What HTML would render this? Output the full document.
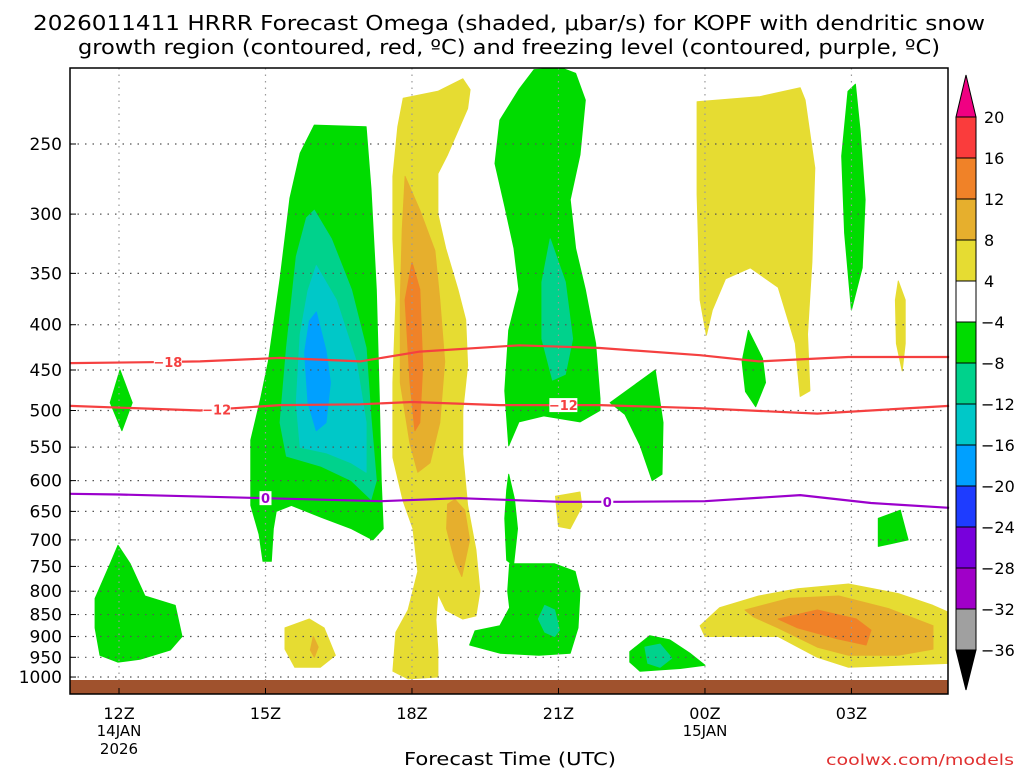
<!DOCTYPE html>
<html><head><meta charset="utf-8"><title>HRRR Omega KOPF</title>
<style>html,body{margin:0;padding:0;background:#fff;width:1024px;height:768px;overflow:hidden}svg{display:block}text{font-family:"DejaVu Sans","Liberation Sans",sans-serif}</style>
</head><body>
<svg id="chart" width="1024" height="768" viewBox="0 0 1024 768" xmlns="http://www.w3.org/2000/svg">
<g>
<text x="33" y="30" font-size="20" textLength="952" lengthAdjust="spacingAndGlyphs" fill="#000">2026011411 HRRR Forecast Omega (shaded, μbar/s) for KOPF with dendritic snow</text>
<text x="78" y="54" font-size="20" textLength="862" lengthAdjust="spacingAndGlyphs" fill="#000">growth region (contoured, red, ºC) and freezing level (contoured, purple, ºC)</text>
</g>
<g id="shading"></g>
<g id="grid"></g>
<g id="lines"></g>
<rect x="70" y="680" width="878" height="14" fill="#a0522d"/>
<rect x="70" y="68" width="878" height="626" fill="none" stroke="#000" stroke-width="1.5"/>
<g id="yaxis"></g>
<g id="xaxis"></g>
<text x="510" y="765" font-size="18" text-anchor="middle" textLength="212" lengthAdjust="spacingAndGlyphs">Forecast Time (UTC)</text>
<text x="1014" y="765" font-size="15" text-anchor="end" fill="#e03030" textLength="188" lengthAdjust="spacingAndGlyphs">coolwx.com/models</text>
<g id="cbar"></g>
</svg>
<script>
const NS="http://www.w3.org/2000/svg";
// axes
const pressureTicks=[250,300,350,400,450,500,550,600,650,700,750,800,850,900,950,1000];
const hourTicks=[12,15,18,21,24,27];
const hourLabels=["12Z","15Z","18Z","21Z","00Z","03Z"];
const dateLabels=[["14JAN","2026"],[],[],[],["15JAN"],[]];
// colorbar
const cbarLevels=["20","16","12","8","4","-4","-8","-12","-16","-20","-24","-28","-32","-36"];
const cbarColors=["#fa3c3c","#f08228","#e6af2d","#e6dc32","#ffffff","#00dc00","#00d28c","#00c8c8","#00a0ff","#1e3cff","#7800dc","#a000c8","#a0a0a0"];
// contour lines (hour since 00Z 14 Jan, hPa)
const m18Hours=[11,12.63,13.66,15.3,16.94,18.16,20.2,21.85,23.9,25.1,26.94,29];
const m18Press=[442,441,440,436,440,429,422,425,433,440,435,435];
const m12Hours=[11,13.66,15.3,16.94,18,19.8,21.85,23.9,26.3,29];
const m12Press=[494,500,493,492,489,493,493,497,504,494];
const frzHours=[11,12,15,17.35,18.98,21.04,22.26,24,25.95,27.4,29];
const frzPress=[621,622,628,633,628,634,634,633,623,636,644];
// shaded omega regions
const Y="#e6dc32",T="#e6af2d",O="#f08228",G="#00dc00",C1="#00d28c",C2="#00c8c8",B="#00a0ff";
const regionColors=[Y,T,O,T,Y,T,O,Y,T,Y,Y,Y,G,C1,C2,B,G,C1,G,G,C1,G,G,G,G,G,G,C1,G];
const regionNames=["yellow-18z","tan-18z","orange-18z","tan-18z-low","yellow-03z-low","tan-03z-low","orange-03z-low","yellow-top-right","tan-16z-low","yellow-16z-low","yellow-22z","yellow-28z","green-16z","teal-16z","cyan-16z","blue-16z","green-21z","teal-21z","green-12z-small","green-12z-low","teal-21z-low","green-21z-low","green-20z-stem","green-23z","green-27z","green-25z","green-28z","teal-23z-low","green-23z-low"];
const regions=[
[[17.82,222],[18.53,218],[19.04,211],[19.19,217],[19.14,228],[18.73,257],[18.53,270],[18.53,300],[18.69,328],[18.94,365],[19.1,395],[19.14,445],[19.04,500],[19.04,560],[19.14,640],[19.31,718],[19.39,800],[19.31,853],[19.04,860],[18.69,840],[18.53,805],[18.49,862],[18.53,935],[18.53,1000],[17.92,1005],[17.61,985],[17.67,890],[17.92,840],[18.12,760],[18.02,680],[17.82,633],[17.61,565],[17.61,465],[17.67,375],[17.61,320],[17.61,272],[17.71,239]],
[[17.86,272],[18.16,297],[18.47,330],[18.57,375],[18.67,440],[18.57,516],[18.37,573],[18.12,587],[17.96,545],[17.76,465],[17.76,375],[17.8,313]],
[[18.0,340],[18.16,365],[18.22,445],[18.16,516],[18.06,527],[17.96,465],[17.86,375]],
[[18.88,630],[19.08,648],[19.18,700],[19.02,770],[18.88,740],[18.71,680],[18.73,638]],
[[23.9,875],[24.3,835],[25.1,810],[25.9,795],[26.94,785],[27.96,805],[28.67,830],[28.99,845],[28.99,965],[27.96,970],[26.94,975],[26.3,950],[25.5,900],[24.7,900],[24.0,900]],
[[24.82,840],[25.73,815],[26.74,810],[27.76,837],[28.67,875],[28.67,930],[27.96,945],[26.94,945],[26.3,925],[25.5,880],[24.99,855]],
[[25.5,860],[26.3,840],[27.1,860],[27.4,885],[27.3,920],[26.7,905],[25.9,880]],
[[23.84,224],[25.13,221],[25.95,216],[26.05,223],[26.25,266],[26.19,340],[26.1,410],[26.15,475],[25.95,482],[25.85,420],[25.5,363],[24.93,345],[24.42,355],[24.15,385],[24.03,411],[23.9,375],[23.84,285]],
[[15.98,900],[16.08,925],[16.0,950],[15.92,932]],
[[15.4,880],[15.9,860],[16.2,880],[16.43,945],[16.12,975],[15.6,975],[15.4,930]],
[[20.94,625],[21.44,618],[21.48,642],[21.24,680],[21.0,676]],
[[27.96,357],[28.1,375],[28.1,420],[28.04,451],[27.92,420],[27.9,375]],
[[16.0,238],[17.06,239],[17.16,281],[17.27,365],[17.33,484],[17.37,600],[17.41,680],[17.2,700],[16.76,680],[16.14,660],[15.53,640],[15.22,650],[15.16,680],[15.12,740],[14.95,740],[14.87,690],[14.7,640],[14.7,540],[14.9,485],[15.06,440],[15.3,355],[15.5,288],[15.71,256]],
[[16.0,297],[16.35,320],[16.76,365],[17.06,425],[17.16,510],[17.27,600],[17.16,630],[16.76,600],[16.14,578],[15.43,563],[15.3,516],[15.43,425],[15.63,335],[15.84,303]],
[[16.04,343],[16.45,375],[16.86,440],[17.06,516],[17.06,587],[16.76,573],[16.24,558],[15.71,550],[15.63,490],[15.71,410],[15.87,366]],
[[16.04,387],[16.24,428],[16.33,465],[16.24,516],[16.04,527],[15.87,490],[15.8,430],[15.9,396]],
[[20.5,206],[21.05,205],[21.35,208],[21.55,223],[21.44,257],[21.24,289],[21.35,328],[21.55,365],[21.76,420],[21.85,485],[21.85,500],[21.44,515],[20.7,507],[20.19,515],[19.98,548],[19.9,475],[19.98,406],[20.19,365],[20.09,328],[19.9,294],[19.7,263],[19.8,235],[20.19,217]],
[[20.83,320],[21.14,358],[21.29,415],[21.14,455],[20.88,462],[20.66,415],[20.66,358]],
[[12.02,450],[12.27,490],[12.06,527],[11.82,490]],
[[11.51,815],[11.82,745],[11.98,710],[12.23,745],[12.53,810],[13.15,830],[13.29,900],[13.05,932],[12.43,955],[11.98,962],[11.61,945],[11.51,880]],
[[20.72,830],[20.92,840],[21.02,885],[20.92,900],[20.72,890],[20.59,860]],
[[20.0,745],[20.92,745],[21.34,760],[21.44,800],[21.4,880],[21.24,940],[20.6,945],[19.8,940],[19.18,920],[19.29,887],[19.8,875],[20.0,835],[19.96,800]],
[[19.98,590],[20.1,630],[20.16,680],[20.08,748],[19.94,738],[19.9,662],[19.94,615]],
[[22.06,490],[22.98,450],[23.14,516],[23.12,590],[22.92,600],[22.67,547],[22.36,505]],
[[26.93,218],[27.08,214],[27.18,242],[27.28,289],[27.22,345],[27.0,385],[26.86,315],[26.8,258]],
[[24.89,406],[25.18,437],[25.24,465],[25.04,495],[24.83,476],[24.76,440]],
[[27.55,662],[28.0,648],[28.16,700],[27.55,712]],
[[22.77,925],[23.08,918],[23.32,952],[23.08,975],[22.83,965]],
[[22.46,936],[22.87,898],[23.28,908],[23.69,940],[24.0,970],[23.49,978],[22.67,985],[22.46,962]]
];
const drawOrder=[0,1,2,3,4,5,6,7,9,8,10,11,12,13,14,15,16,17,18,19,21,20,22,23,24,25,26,28,27];

function xs(h){return 119+(h-12)*48.83;}
function ys(p){return 144+(Math.log(p)-Math.log(250))*384.5;}
function mk(tag,attrs,parent){const e=document.createElementNS(NS,tag);for(const k in attrs)e.setAttribute(k,attrs[k]);parent.appendChild(e);return e;}

const shading=document.getElementById('shading');
const clip=mk('clipPath',{id:'plotclip'},mk('defs',{},shading));
mk('rect',{x:70,y:68,width:878,height:626},clip);
const sg=mk('g',{'clip-path':'url(#plotclip)'},shading);
drawOrder.forEach(i=>{
  const pts=regions[i].map(([h,p])=>xs(h).toFixed(1)+','+ys(p).toFixed(1)).join(' ');
  const el=mk('polygon',{points:pts,fill:regionColors[i],stroke:regionColors[i],'stroke-width':1,'stroke-linejoin':'round'},sg);
  
  
});

const grid=document.getElementById('grid');
pressureTicks.forEach(p=>{
  const l=mk('line',{x1:70,x2:948,y1:ys(p),y2:ys(p),stroke:'#555','stroke-width':1.2,'stroke-dasharray':'1.5 6'},grid);
  
  
});
hourTicks.forEach(h=>{
  const l=mk('line',{x1:xs(h),x2:xs(h),y1:68,y2:694,stroke:'#999','stroke-width':1.2,'stroke-dasharray':'1.5 5'},grid);
  
  
});

const lines=document.getElementById('lines');
function drawLine(hs,ps,color,name){
  const d=hs.map((h,i)=>(i?'L':'M')+xs(h).toFixed(1)+','+ys(ps[i]).toFixed(1)).join(' ');
  const el=mk('path',{d:d,fill:'none',stroke:color,'stroke-width':2.2},lines);
  
  
}
function interp(hs,ps,h){for(let i=1;i<hs.length;i++){if(h<=hs[i]){const t=(h-hs[i-1])/(hs[i]-hs[i-1]);return ps[i-1]+t*(ps[i]-ps[i-1]);}}return ps[ps.length-1];}
function label(hs,ps,h,txt,color,name){
  const x=xs(h),y=ys(interp(hs,ps,h));
  const w=txt.length*8+4;
  mk('rect',{x:x-w/2,y:y-7,width:w,height:14,fill:'#fff'},lines);
  const t=mk('text',{x:x,y:y+5,'font-size':13,'font-weight':'bold','text-anchor':'middle',fill:color},lines);
  t.textContent=txt;
  
  
}
drawLine(m18Hours,m18Press,'#f54040','contour-minus18');
drawLine(m12Hours,m12Press,'#f54040','contour-minus12');
drawLine(frzHours,frzPress,'#9b00cc','freezing-level');
label(m18Hours,m18Press,13.0,'−18','#f54040','label-minus18');
label(m12Hours,m12Press,14.0,'−12','#f54040','label-minus12-a');
label(m12Hours,m12Press,21.1,'−12','#f54040','label-minus12-b');
label(frzHours,frzPress,15.0,'0','#9b00cc','label-freezing-a');
label(frzHours,frzPress,22.0,'0','#9b00cc','label-freezing-b');

const ya=document.getElementById('yaxis');
pressureTicks.forEach(p=>{
  const t=mk('text',{x:62,y:ys(p)+6,'font-size':17,'text-anchor':'end',fill:'#000'},ya);
  t.textContent=p;
  
  
  mk('line',{x1:70,x2:76,y1:ys(p),y2:ys(p),stroke:'#000'},ya);
});
const xa=document.getElementById('xaxis');
hourTicks.forEach((h,i)=>{
  mk('line',{x1:xs(h),x2:xs(h),y1:694,y2:688,stroke:'#000'},xa);
  const t=mk('text',{x:xs(h),y:719,'font-size':16,'text-anchor':'middle',fill:'#000'},xa);
  t.textContent=hourLabels[i];
  
  
  dateLabels[i].forEach((s,j)=>{
    const d=mk('text',{x:xs(h),y:736+j*18,'font-size':15,'text-anchor':'middle',fill:'#000'},xa);
    d.textContent=s;
    
    
  });
});

const cb=document.getElementById('cbar');
const cx=956,cw=20,cTop=117,bh=41;
const tri1=mk('polygon',{points:`${cx},${cTop} ${cx+cw},${cTop} ${cx+cw/2},${cTop-42}`,fill:'#f00082',stroke:'#000'},cb);


cbarColors.forEach((c,i)=>{
  const r=mk('rect',{x:cx,y:cTop+i*bh,width:cw,height:bh,fill:c,stroke:'#000','stroke-width':1},cb);
  
  
});
const cBot=cTop+cbarColors.length*bh;
const tri2=mk('polygon',{points:`${cx},${cBot} ${cx+cw},${cBot} ${cx+cw/2},${cBot+40}`,fill:'#000',stroke:'#000'},cb);


cbarLevels.forEach((s,i)=>{
  const t=mk('text',{x:s[0]==='-'?981:984,y:cTop+i*bh+6,'font-size':16,fill:'#000'},cb);
  t.textContent=s.replace('-','−');
  
  
});
</script>
</body></html>
